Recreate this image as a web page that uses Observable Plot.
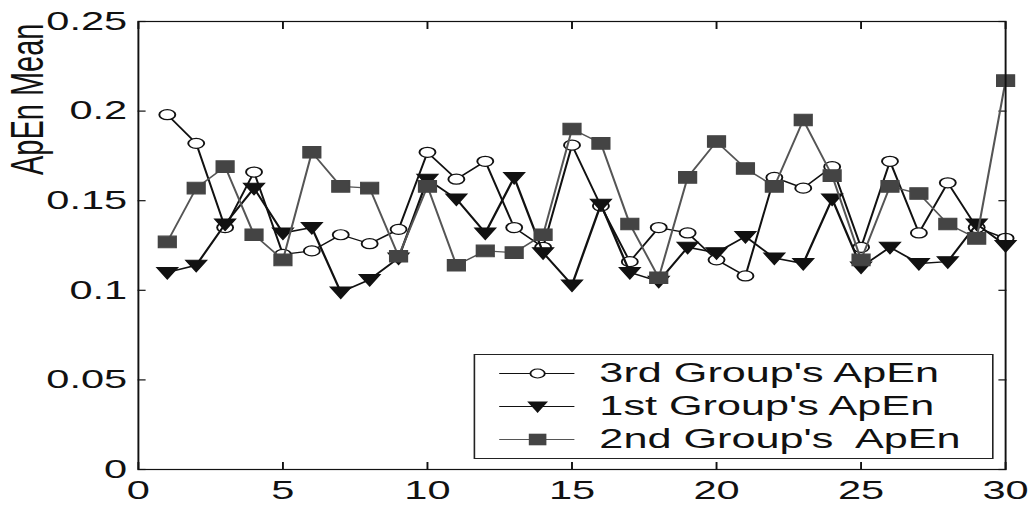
<!DOCTYPE html>
<html><head><meta charset="utf-8">
<script src="https://cdn.jsdelivr.net/npm/d3@7"></script>
<script src="https://cdn.jsdelivr.net/npm/@observablehq/plot@0.6"></script>
<style>
html,body{margin:0;padding:0;background:#fff;overflow:hidden;}
#wrap{position:absolute;left:0;top:0;width:645px;height:506px;transform:scaleX(1.6);transform-origin:0 0;font-family:"Liberation Sans",Arial,sans-serif;}
#legend{position:absolute;left:295.6px;top:354px;width:325px;height:105px;box-sizing:border-box;border:1.2px solid #222;background:#fff;padding-top:2px;}
.row{height:33px;display:flex;align-items:center;}
.row svg{width:78px;height:33px;flex:none;}
.row span{font-size:27px;white-space:pre;color:#111;line-height:33px;}
</style></head>
<body><div id="wrap"></div>
<script>
const runs = [1,2,3,4,5,6,7,8,9,10,11,12,13,14,15,16,17,18,19,20,21,22,23,24,25,26,27,28,29,30];
const group3 = [0.198,0.182,0.135,0.166,0.120,0.122,0.131,0.126,0.134,0.177,0.162,0.172,0.135,0.124,0.181,0.147,0.116,0.135,0.132,0.117,0.108,0.163,0.157,0.169,0.124,0.172,0.132,0.160,0.135,0.129];
const group1 = [0.110,0.114,0.137,0.157,0.132,0.135,0.099,0.106,0.118,0.162,0.151,0.132,0.163,0.121,0.103,0.148,0.110,0.105,0.124,0.121,0.130,0.118,0.115,0.151,0.113,0.124,0.115,0.116,0.137,0.125];
const group2 = [0.127,0.157,0.169,0.131,0.117,0.177,0.158,0.157,0.119,0.158,0.114,0.122,0.121,0.131,0.190,0.182,0.137,0.107,0.163,0.183,0.168,0.158,0.195,0.164,0.117,0.158,0.154,0.137,0.129,0.217];
const seriesNames = ["3rd Group's ApEn", "1st Group's ApEn", "2nd Group's  ApEn"];
const xTicks = [0,5,10,15,20,25,30];
const xTickLabels = ["0","5","10","15","20","25","30"];
const yTicks = [0,0.05,0.1,0.15,0.2,0.25];
const yTickLabels = ["0","0.05","0.1","0.15","0.2","0.25"];
const yLabel = "ApEn Mean";

const triDown = {draw(ctx){ctx.moveTo(-6.5,-5);ctx.lineTo(6.5,-5);ctx.lineTo(0,6.5);ctx.closePath();}};
const squareSym = {draw(ctx){ctx.moveTo(-5.5,-5.8);ctx.lineTo(5.5,-5.8);ctx.lineTo(5.5,5.8);ctx.lineTo(-5.5,5.8);ctx.closePath();}};

const mk = (vals) => runs.map((r,i)=>({x:r, y:vals[i]}));
const d3rd = mk(group3), d1st = mk(group1), d2nd = mk(group2);

const lineCol = ["#111","#111","#555"];
const chart = Plot.plot({
  width: 645, height: 506,
  marginLeft: 86, marginRight: 17, marginTop: 21, marginBottom: 37,
  style: {fontFamily: "Liberation Sans, Arial, sans-serif", color: "#111", background: "#fff", overflow: "visible"},
  x: {domain: [0, 30]},
  y: {domain: [0, 0.25]},
  marks: [
    Plot.axisX({anchor: "bottom", ticks: xTicks, tickSize: 0, tickPadding: 11, fontSize: 26, label: null, tickFormat: d => xTickLabels[xTicks.indexOf(d)]}),
    Plot.axisX({anchor: "bottom", ticks: xTicks, tickSize: -7, fill: "none", label: null, strokeWidth: 1.2}),
    Plot.axisX({anchor: "top", ticks: xTicks, tickSize: -7, fill: "none", label: null, strokeWidth: 1.2}),
    Plot.axisY({anchor: "left", ticks: yTicks, tickSize: 0, tickPadding: 7, fontSize: 26, label: null, tickFormat: d => yTickLabels[yTicks.indexOf(d)]}),
    Plot.axisY({anchor: "left", ticks: yTicks, tickSize: -5, fill: "none", label: null, strokeWidth: 1.2}),
    Plot.axisY({anchor: "right", ticks: yTicks, tickSize: -5, fill: "none", label: null, strokeWidth: 1.2}),
    Plot.text([yLabel], {frameAnchor: "top-left", text: d => d, rotate: -90, textAnchor: "end", dx: -80, dy: 2, fontSize: 29, fill: "#111"}),
    Plot.line(d3rd, {x: "x", y: "y", stroke: lineCol[0], strokeWidth: 1.3}),
    Plot.dot(d3rd, {x: "x", y: "y", r: 5, fill: "#fff", stroke: "#111", strokeWidth: 1.2}),
    Plot.line(d1st, {x: "x", y: "y", stroke: lineCol[1], strokeWidth: 1.5}),
    Plot.dot(d1st, {x: "x", y: "y", symbol: triDown, r: 5, fill: "#111", stroke: "#111", strokeWidth: 1}),
    Plot.line(d2nd, {x: "x", y: "y", stroke: lineCol[2], strokeWidth: 1.3}),
    Plot.dot(d2nd, {x: "x", y: "y", symbol: squareSym, r: 5, fill: "#444", stroke: "#444", strokeWidth: 1}),
    Plot.frame({stroke: "#111", strokeWidth: 1.2})
  ]
});
const wrap = document.getElementById("wrap");
wrap.appendChild(chart);

const markers = [
  '<circle cx="39" cy="16.5" r="4.5" fill="#fff" stroke="#111" stroke-width="1.2"/>',
  '<path d="M32.5,11.5L45.5,11.5L39,23Z" fill="#111"/>',
  '<rect x="33.5" y="10.7" width="11" height="11.6" fill="#444"/>'
];
const legend = document.createElement("div");
legend.id = "legend";
legend.innerHTML = seriesNames.map((n,i)=>`<div class="row"><svg viewBox="0 0 78 33"><line x1="15" x2="62" y1="16.5" y2="16.5" stroke="${lineCol[i]}" stroke-width="1.2"/>${markers[i]}</svg><span>${n}</span></div>`).join("");
wrap.appendChild(legend);
</script>
</body></html>
